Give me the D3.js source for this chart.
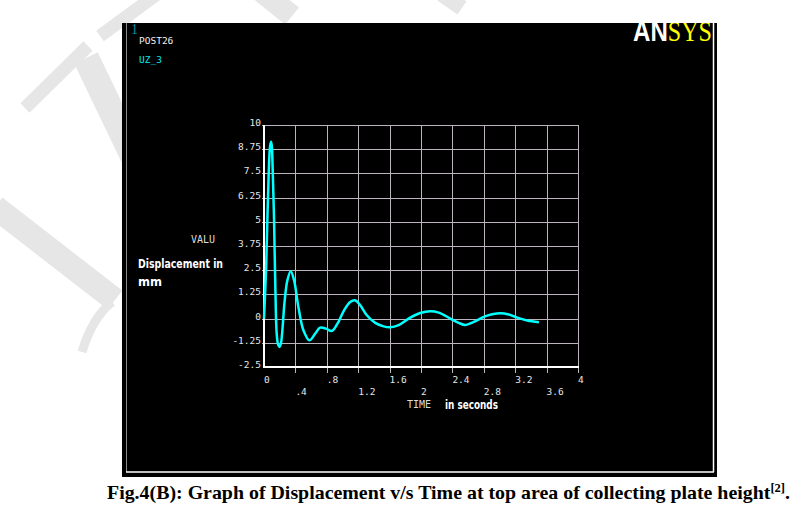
<!DOCTYPE html>
<html>
<head>
<meta charset="utf-8">
<script src="https://cdn.jsdelivr.net/npm/d3@7"></script>
<style>
  body { margin: 0; background: #fff; }
  svg { display: block; }
</style>
</head>
<body>
<script>
'use strict';

// UZ_3 displacement (mm) against time (s)
const timeS = [0, 0.013, 0.026, 0.043, 0.06, 0.077, 0.09, 0.1, 0.11, 0.128, 0.145, 0.162, 0.18, 0.196,
  0.215, 0.23, 0.264, 0.298, 0.34, 0.383, 0.438, 0.502, 0.579, 0.651, 0.715, 0.79, 0.864, 0.936,
  1.02, 1.098, 1.16, 1.226, 1.31, 1.417, 1.523, 1.609, 1.715, 1.864, 1.99, 2.119, 2.226, 2.374,
  2.48, 2.566, 2.672, 2.8, 2.906, 3.013, 3.119, 3.226, 3.353, 3.502];
const uz3 = [0, 1.2, 2.5, 5.1, 7.5, 8.9, 9.14, 8.9, 7.8, 5.1, 1.5, -0.8, -1.35, -1.47,
  -1.3, -0.8, 0.95, 1.98, 2.45, 1.98, 0.6, -0.6, -1.12, -0.78, -0.47, -0.52, -0.64, -0.26,
  0.43, 0.86, 0.95, 0.69, 0.17, -0.22, -0.4, -0.45, -0.34, 0.05, 0.29, 0.38, 0.31, 0,
  -0.22, -0.33, -0.17, 0.09, 0.22, 0.28, 0.21, 0.05, -0.1, -0.19];

const yTicks = [-2.5, -1.25, 0, 1.25, 2.5, 3.75, 5, 6.25, 7.5, 8.75, 10];
const yTickLabels = ["-2.5", "-1.25", "0", "1.25", "2.5", "3.75", "5", "6.25", "7.5", "8.75", "10"];
const xTicks = [0, 0.4, 0.8, 1.2, 1.6, 2, 2.4, 2.8, 3.2, 3.6, 4];
const xTickLabels = ["0", ".4", ".8", "1.2", "1.6", "2", "2.4", "2.8", "3.2", "3.6", "4"];

const W = 804, H = 527;
const mono = "'DejaVu Sans Mono', monospace";

let svg = d3.select('body').append('svg')
  .attr('width', W)
  .attr('height', H);

// faint watermark strokes behind the screenshot
let wm = svg.append('g')
  .attr('stroke', '#e6e6e6')
  .attr('fill', 'none')
  .attr('stroke-linecap', 'butt');
wm.append('path').attr('d', 'M25,108 L88,46').attr('stroke-width', 13);
wm.append('path').attr('d', 'M100,36 L160,-8').attr('stroke-width', 13);
wm.append('path').attr('d', 'M86,58 L135,160').attr('stroke-width', 26);
wm.append('path').attr('d', 'M-5,207 L115,300').attr('stroke-width', 24);
wm.append('path').attr('d', 'M112,302 Q92,318 82,352').attr('stroke-width', 9);
wm.append('path').attr('d', 'M262,-8 L292,16').attr('stroke-width', 22);
wm.append('path').attr('d', 'M442,-6 L462,8').attr('stroke-width', 16);

// black ANSYS window
svg.append('defs').append('clipPath').attr('id', 'win')
  .append('rect').attr('x', 122).attr('y', 23).attr('width', 595).attr('height', 454);
svg.append('rect')
  .attr('x', 122).attr('y', 23)
  .attr('width', 595).attr('height', 454)
  .attr('fill', '#000');
let win = svg.append('g').attr('clip-path', 'url(#win)');

win.append('line').attr('x1', 126.5).attr('x2', 126.5).attr('y1', 23).attr('y2', 472)
  .attr('stroke', '#8a8a8a').attr('stroke-width', 1);
win.append('line').attr('x1', 126).attr('x2', 714).attr('y1', 472).attr('y2', 472)
  .attr('stroke', '#fff').attr('stroke-width', 1.5);
win.append('line').attr('x1', 713.5).attr('x2', 713.5).attr('y1', 23).attr('y2', 472)
  .attr('stroke', '#fff').attr('stroke-width', 1.5);

// ANSYS logo, top cut by the window edge
let logo = win.append('text')
  .attr('x', 633).attr('y', 41)
  .attr('textLength', 79).attr('lengthAdjust', 'spacingAndGlyphs')
  .style('font-size', '30px');
logo.append('tspan')
  .style('font-family', "'Liberation Sans', sans-serif")
  .style('font-weight', 'bold')
  .attr('fill', '#fff')
  .text('AN');
logo.append('tspan')
  .style('font-family', "'Liberation Serif', serif")
  .attr('fill', '#ffff00')
  .text('SYS');

// window header labels
win.append('text').attr('x', 131).attr('y', 34)
  .style('font-family', "'Liberation Serif', serif").style('font-size', '14px')
  .attr('fill', '#00909c').text('1');
win.append('text').attr('x', 139).attr('y', 44)
  .style('font-family', mono).style('font-size', '9.5px')
  .attr('fill', '#f0f0f0').text('POST26');
win.append('text').attr('x', 139).attr('y', 63)
  .style('font-family', mono).style('font-size', '9.5px')
  .attr('fill', '#00e8f0').text('UZ_3');

// scales
let xScale = d3.scaleLinear().domain([0, 4]).range([264, 578]);
let yScale = d3.scaleLinear().domain([-2.5, 10]).range([367, 125]);

// grid
let grid = win.append('g').attr('stroke', '#bcb4bc').attr('stroke-width', 1);
grid.selectAll('.vg')
  .data(xTicks.slice(1))
  .enter()
  .append('line')
  .attr('x1', d => Math.round(xScale(d)) + 0.5)
  .attr('x2', d => Math.round(xScale(d)) + 0.5)
  .attr('y1', yScale(10))
  .attr('y2', yScale(-2.5) + 6);
grid.selectAll('.hg')
  .data(yTicks.slice(1))
  .enter()
  .append('line')
  .attr('x1', 262)
  .attr('x2', xScale(4))
  .attr('y1', d => Math.round(yScale(d)) + 0.5)
  .attr('y2', d => Math.round(yScale(d)) + 0.5);

// axes lines
win.append('line').attr('x1', 264).attr('x2', 264)
  .attr('y1', yScale(10)).attr('y2', yScale(-2.5) + 1)
  .attr('stroke', '#fff').attr('stroke-width', 2);
win.append('line').attr('x1', 263).attr('x2', xScale(4) + 1)
  .attr('y1', yScale(-2.5)).attr('y2', yScale(-2.5))
  .attr('stroke', '#fff').attr('stroke-width', 2);

// tick labels
win.selectAll('.yl')
  .data(yTicks)
  .enter()
  .append('text')
  .attr('x', 261)
  .attr('y', d => yScale(d) + 1)
  .attr('text-anchor', 'end')
  .style('font-family', mono).style('font-size', '9.5px')
  .attr('fill', '#e6e6e6')
  .text((d, i) => yTickLabels[i]);
win.selectAll('.xl')
  .data(xTicks)
  .enter()
  .append('text')
  .attr('x', d => xScale(d))
  .attr('y', (d, i) => i % 2 === 0 ? 383 : 395)
  .style('font-family', mono).style('font-size', '9.5px')
  .attr('fill', '#e6e6e6')
  .text((d, i) => xTickLabels[i]);

// axis titles
win.append('text').attr('x', 191).attr('y', 243)
  .style('font-family', mono).style('font-size', '10px')
  .attr('fill', '#dcdcdc').text('VALU');
win.append('text').attr('x', 138).attr('y', 268)
  .attr('textLength', 85).attr('lengthAdjust', 'spacingAndGlyphs')
  .style('font-family', "'DejaVu Sans', sans-serif").style('font-weight', 'bold').style('font-size', '11.5px')
  .attr('fill', '#fff').text('Displacement in');
win.append('text').attr('x', 138).attr('y', 286)
  .style('font-family', "'DejaVu Sans', sans-serif").style('font-weight', 'bold').style('font-size', '11.5px')
  .attr('fill', '#fff').text('mm');
win.append('text').attr('x', 407).attr('y', 408)
  .style('font-family', mono).style('font-size', '10px')
  .attr('fill', '#dcdcdc').text('TIME');
win.append('text').attr('x', 445).attr('y', 409)
  .attr('textLength', 53).attr('lengthAdjust', 'spacingAndGlyphs')
  .style('font-family', "'DejaVu Sans', sans-serif").style('font-weight', 'bold').style('font-size', '11.5px')
  .attr('fill', '#fff').text('in seconds');

// the response curve
let pts = timeS.map((t, i) => [t, uz3[i]]);
let line = d3.line()
  .x(d => xScale(d[0]))
  .y(d => yScale(d[1]))
  .curve(d3.curveCatmullRom.alpha(0.5));
win.append('path')
  .datum(pts)
  .attr('d', line)
  .attr('fill', 'none')
  .attr('stroke', '#00ffff')
  .attr('stroke-width', 2.5)
  .attr('stroke-linejoin', 'round');

// caption
let cap = svg.append('text')
  .attr('x', 107).attr('y', 499)
  .style('font-family', "'Liberation Serif', serif")
  .style('font-weight', 'bold')
  .style('font-size', '19px')
  .attr('fill', '#000');
cap.append('tspan').text('Fig.4(B): Graph of Displacement v/s Time at top area of collecting plate height');
cap.append('tspan').attr('dy', -7).style('font-size', '12px').text('[2]');
cap.append('tspan').attr('dy', 7).text('.');
cap.attr('textLength', 683).attr('lengthAdjust', 'spacingAndGlyphs');
</script>
</body>
</html>
